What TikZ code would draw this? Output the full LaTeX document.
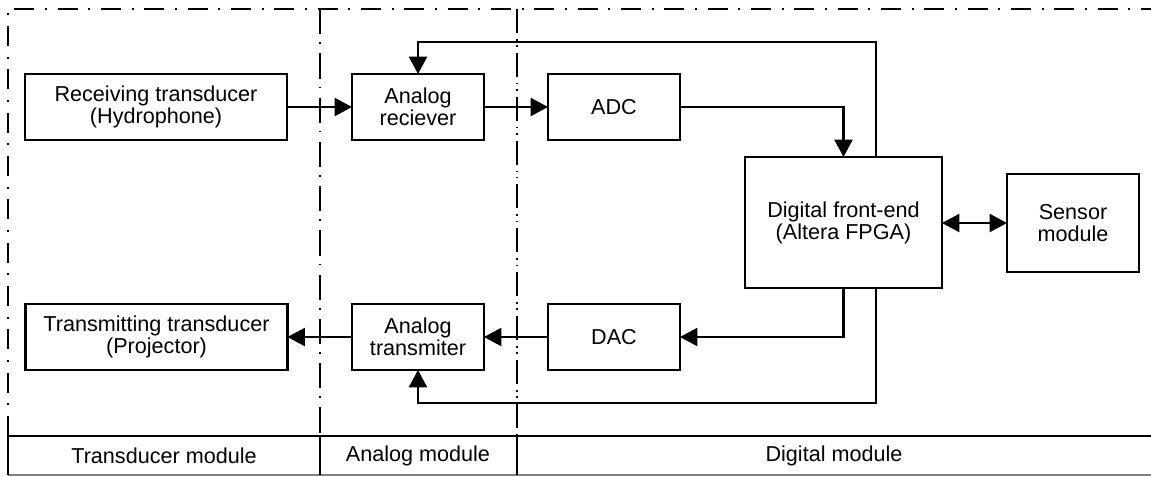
\documentclass[tikz,border=0pt]{standalone}
\usepackage{fontspec}
\setmainfont{Liberation Sans}
\usetikzlibrary{arrows.meta,calc}

\begin{document}
\begin{tikzpicture}[x=0.75pt,y=-0.75pt,
  txt/.style={font=\fontsize{16.2}{16.5}\selectfont,align=center,inner sep=0pt},
  blk/.style={txt,draw,line width=1.6pt,outer sep=0pt},
  wide/.style={blk,minimum width=196.5pt,minimum height=49.5pt},
  small/.style={blk,minimum width=99pt,minimum height=49.5pt},
  tip/.tip={Triangle[length=13pt,width=13.5pt]},
  conn/.style={line width=1.6pt,-tip},
  frame/.style={line width=1.9pt,dash pattern=on 15pt off 8pt on 1.5pt off 8pt},
  divA/.style={line width=1.3pt,dash pattern=on 19pt off 6pt on 1.2pt off 7pt},
  divB/.style={line width=1.3pt,dash pattern=on 18pt off 4.5pt on 1.2pt off 3.5pt on 1.2pt off 4.5pt}
]
\useasboundingbox (0,0) rectangle (1151,476);

% module boundaries
\draw[frame] (8,436) -- (8,9) -- (1151,9);
\draw[divA] (320,9) -- (320,436);
\draw[divB] (517,9) -- (517,436);

% module legend row
\draw[line width=1.9pt] (8,436) -- (1151,436);
\draw[line width=0.8pt,gray] (8,475) -- (1151,475);
\draw[line width=1.3pt] (8,436) -- (8,475) (320,436) -- (320,475) (517,436) -- (517,475);
\node[txt] (lt) at (164,456) {Transducer module};
\node[txt] (la) at (418,456) {Analog module};
\node[txt] (ld) at (834,456) {Digital module};

% blocks
\node[wide] (rx) at (156,107) {Receiving transducer\\(Hydrophone)};
\node[small] (ar) at (418,107) {Analog\\reciever};
\node[small] (adc) at (614,107) {ADC};
\node[blk,minimum width=147.75pt,minimum height=98.25pt] (dfe) at (843.5,222.5) {Digital front-end\\(Altera FPGA)};
\node[blk,minimum width=99pt,minimum height=73.5pt] (sens) at (1073,223) {Sensor\\module};
\node[small] (dac) at (614,337) {DAC};
\node[small] (at) at (418,337) {Analog\\transmiter};
\node[wide] (tx) at (156.5,337) {Transmitting transducer\\(Projector)};

% routing helpers
\coordinate (fbx) at (876,0);
\coordinate (topy) at (0,42);
\coordinate (boty) at (0,403);

% signal paths
\draw[conn] (rx.east) -- (ar.west);
\draw[conn] (ar.east) -- (adc.west);
\draw[conn] (adc.east) -| (dfe.north);
\draw[conn] (dfe.north -| fbx) |- (ar.north |- topy) -- (ar.north);
\draw[conn] (dfe.south) |- (dac.east);
\draw[conn] (dfe.south -| fbx) |- (at.south |- boty) -- (at.south);
\draw[conn] (dac.west) -- (at.east);
\draw[conn] (at.west) -- (tx.east);
\draw[line width=1.6pt,tip-tip] (dfe.east |- sens.west) -- (sens.west);
\end{tikzpicture}
\end{document}
